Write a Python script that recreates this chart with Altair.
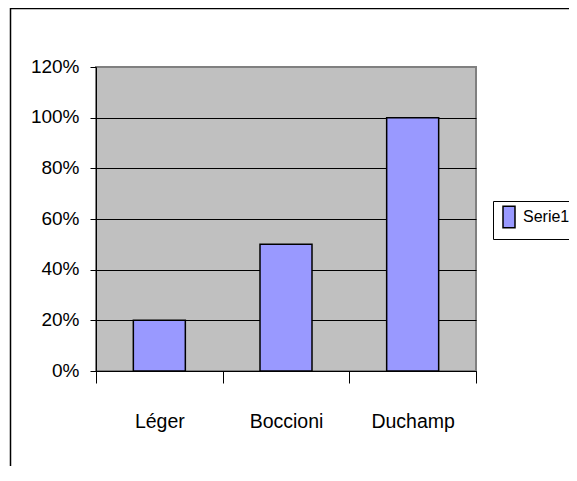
import altair as alt
import pandas as pd

categories = ["Léger", "Boccioni", "Duchamp"]
values = [0.20, 0.50, 1.00]
series = ["Serie1", "Serie1", "Serie1"]
y_ticks = [0, 0.2, 0.4, 0.6, 0.8, 1.0, 1.2]

df = pd.DataFrame({"artist": categories, "value": values, "series": series})

FONT = "Liberation Sans, Arial, sans-serif"
W, H = 380, 304
PL, PT = 88, 59
TOTAL_W, TOTAL_H = 561, 458

bars = alt.Chart(df).mark_bar(size=52, stroke="black", strokeWidth=1.5).encode(
    x=alt.X("artist:N", sort=categories, title=None,
            scale=alt.Scale(paddingInner=0, paddingOuter=0),
            axis=alt.Axis(labelAngle=0, tickBand="extent", tickSize=12,
                          tickColor="black", domainColor="black",
                          labelFontSize=19.5, labelFont=FONT, labelColor="black",
                          labelPadding=29, grid=False)),
    y=alt.Y("value:Q", title=None,
            scale=alt.Scale(domain=[0, 1.2], nice=False),
            axis=alt.Axis(values=y_ticks, format=".0%", tickSize=6,
                          tickColor="black", domainColor="black",
                          labelFontSize=19, labelFont=FONT, labelColor="black",
                          labelPadding=11, labelOffset=-1, grid=True, gridOpacity=1,
                          gridColor={"condition": {"test": "datum.value >= 1.19", "value": "#808080"},
                                     "value": "black"})),
    color=alt.Color("series:N", title=None,
                    scale=alt.Scale(range=["#9999FF"]),
                    legend=alt.Legend(orient="none", legendX=397, legendY=134,
                                      strokeColor="black", fillColor="white",
                                      padding=8,
                                      symbolType="M-1,-1.8H1V1.8H-1Z", symbolSize=144,
                                      symbolStrokeColor="black", symbolStrokeWidth=1.5,
                                      labelFontSize=16, labelFont=FONT, labelColor="black",
                                      labelOffset=6)),
)

one = alt.Data(values=[{"a": 1}])
top_border = alt.Chart(one).mark_rule(color="black", strokeWidth=1.5).encode(
    x=alt.value(-86), x2=alt.value(TOTAL_W - PL), y=alt.value(-58.5)
)
left_border = alt.Chart(one).mark_rule(color="black", strokeWidth=1.5).encode(
    x=alt.value(-85.5), y=alt.value(-59), y2=alt.value(TOTAL_H - PT)
)

chart = alt.layer(bars, top_border, left_border).properties(
    width=W, height=H,
    autosize=alt.AutoSizeParams(type="none"),
    padding={"left": PL, "top": PT, "right": TOTAL_W - PL - W, "bottom": TOTAL_H - PT - H},
    background="white",
).configure_view(fill="#C0C0C0", stroke="#808080", strokeWidth=2)

chart.save("out.html", embed_options={"renderer": "svg", "actions": False})
